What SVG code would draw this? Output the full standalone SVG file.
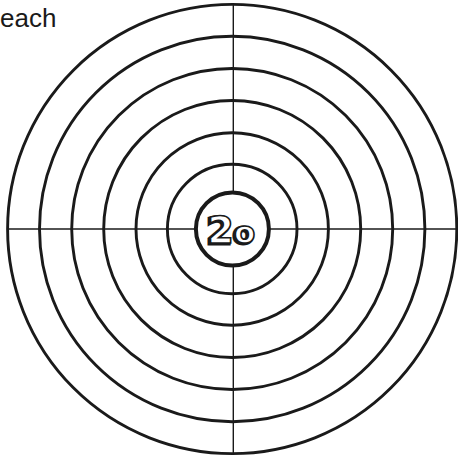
<svg xmlns="http://www.w3.org/2000/svg" width="458" height="457" viewBox="0 0 458 457">
<style>
.ring{fill:none;stroke:#1a1a1a;stroke-width:2.9}
.axis{stroke:#1a1a1a;stroke-width:1.4}
.lbl{font-family:"Liberation Sans",Arial,sans-serif;fill:#1a1a1a}
.num{font-family:"DejaVu Sans",sans-serif;font-weight:bold}
.shadow{fill:#1a1a1a;stroke:#1a1a1a;stroke-width:3}
.face{fill:#fff;stroke:#1a1a1a;stroke-width:1.6}
</style>
<rect width="458" height="457" fill="#fff"/>
<g id="axes">
<line class="axis" x1="7" y1="229" x2="456" y2="229"/>
<line class="axis" x1="233.3" y1="4" x2="233.3" y2="454"/>
</g>
<g id="rings">
<circle class="ring" cx="232.2" cy="229" r="224.6"/>
<circle class="ring" cx="232.2" cy="229" r="192.7"/>
<circle class="ring" cx="232.2" cy="229" r="160.5"/>
<circle class="ring" cx="232.2" cy="229" r="128.5"/>
<circle class="ring" cx="232.2" cy="229" r="96.2"/>
<circle class="ring" cx="232.2" cy="229" r="64.8"/>
<circle cx="232.4" cy="229" r="36.5" fill="#fff" stroke="#1a1a1a" stroke-width="4"/>
</g>
<g id="center-label">
<text class="num shadow" x="206" y="244"><tspan font-size="38">2</tspan><tspan font-size="31">o</tspan></text>
<text class="num face" x="207.5" y="242.5"><tspan font-size="38">2</tspan><tspan font-size="31">o</tspan></text>
</g>
<g id="caption">
<text class="lbl" x="0" y="27" font-size="26">each</text>
</g>
</svg>
